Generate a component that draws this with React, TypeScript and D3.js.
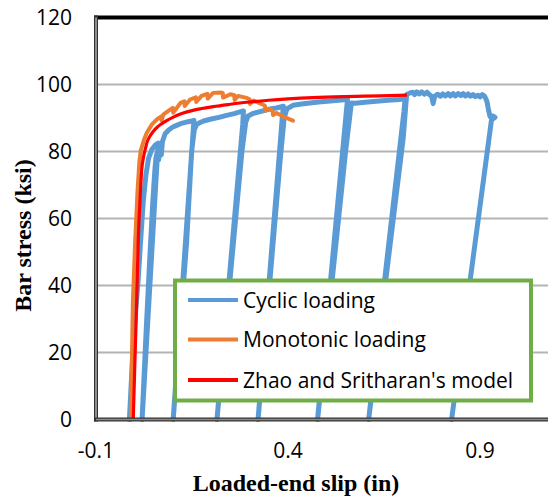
import React from "react";
import * as d3 from "d3";

const W = 548;
const H = 500;

const yTicks = [0, 20, 40, 60, 80, 100, 120];
const xTicks = [-0.1, 0.4, 0.9];

const legendLabels = ["Cyclic loading", "Monotonic loading", "Zhao and Sritharan's model"];
const seriesColors = ["#5B9BD5", "#ED7D31", "#FF0000"];

// Cyclic loading (slip in, stress ksi)
const cyclicSlip = [
  -0.013, -0.005, 0.003, 0.01, 0.016, 0.023, 0.03, 0.037, 0.045, 0.055, 0.062,
  0.06, 0.02,
  0.03, 0.04, 0.048, 0.053, 0.056, 0.06, 0.063, 0.066, 0.07, 0.073, 0.08, 0.09, 0.1, 0.11, 0.12, 0.13, 0.14, 0.15, 0.155,
  0.153, 0.101,
  0.136, 0.149, 0.156, 0.162, 0.17, 0.18, 0.2, 0.22, 0.24, 0.26, 0.275, 0.284,
  0.282, 0.215,
  0.28, 0.29, 0.296, 0.31, 0.33, 0.35, 0.37, 0.388,
  0.385, 0.322,
  0.38, 0.39, 0.397, 0.413, 0.435, 0.457, 0.48, 0.51, 0.54, 0.555,
  0.552, 0.477,
  0.55, 0.565, 0.575, 0.6, 0.63, 0.66, 0.69, 0.705,
  0.702, 0.61,
  0.7, 0.709, 0.718, 0.725, 0.73, 0.735, 0.742, 0.748, 0.755, 0.762, 0.768, 0.774, 0.778, 0.782, 0.79, 0.797,
  0.803, 0.81, 0.817, 0.823, 0.83, 0.836, 0.843, 0.85, 0.856, 0.862, 0.869, 0.875, 0.882, 0.888, 0.895, 0.9,
  0.906, 0.912, 0.918, 0.922, 0.926, 0.934, 0.939, 0.93, 0.826,
];
const cyclicStress = [
  0, 18, 32, 42, 53, 65, 73, 78, 80.5, 82, 82.5,
  79, 0,
  25, 48, 65, 74, 78, 80, 77.5, 80.5, 79, 83, 85.3, 86.5, 87.3, 87.8, 88.3, 88.6, 88.9, 89.1, 89.3,
  86, 0,
  53, 80, 86.5, 88, 88.6, 89.1, 89.7, 90.2, 90.8, 91.3, 91.8, 92.1,
  88, 0,
  80, 88.8, 90.6, 91.4, 92, 92.6, 93, 93.5,
  90, 0,
  78, 90, 92.7, 93.8, 94.2, 94.5, 94.8, 95.1, 95.4, 95.6,
  92, 0,
  80, 94.5, 94.4, 94.7, 95, 95.3, 95.5, 95.8,
  92, 0,
  84, 97, 97.5, 97.7, 97.0, 97.8, 97.2, 97.8, 97.1, 97.7, 97.0, 96.5, 94.3, 96.5, 97.1, 96.5,
  97.2, 96.6, 97.3, 96.6, 97.3, 96.6, 97.3, 96.7, 97.3, 96.6, 97.2, 96.5, 97.0, 96.4, 96.8, 96.3,
  97.0, 96.5, 95, 92.5, 90.5, 90.6, 90.2, 89.5, 0,
];

// Monotonic loading
const monoSlip = [
  -0.009, -0.004, 0.002, 0.008, 0.013, 0.017, 0.025, 0.032, 0.045, 0.058,
  0.07, 0.071, 0.075, 0.093, 0.1, 0.101, 0.12, 0.13, 0.131, 0.145, 0.16, 0.161,
  0.175, 0.19, 0.191, 0.205, 0.225, 0.23, 0.231, 0.25, 0.26, 0.261, 0.27, 0.292,
  0.3, 0.301, 0.31, 0.335, 0.34, 0.341, 0.35, 0.36, 0.361, 0.37, 0.39, 0.413,
];
const monoStress = [
  0, 35, 53, 68, 77, 80.5, 83.5, 85.5, 88, 89.5,
  90.5, 89.2, 91, 92.5, 93, 91.6, 94.5, 95, 93.6, 95.5, 96.2, 94.8,
  96.6, 97.2, 95.8, 97.5, 97.6, 97.5, 96.1, 97.1, 96.8, 95.4, 96.6, 96,
  95.6, 94.2, 95.2, 94, 93.6, 92.2, 92.7, 92.2, 90.9, 91.5, 90.3, 89.2,
];

// Zhao and Sritharan's model
const modelSlip = [
  -0.003, 0.002, 0.006, 0.01, 0.0146, 0.019, 0.024, 0.029, 0.033, 0.04, 0.049, 0.06, 0.07,
  0.085, 0.1, 0.12, 0.16, 0.205, 0.25, 0.293, 0.35, 0.4, 0.466, 0.55, 0.64, 0.71,
];
const modelStress = [
  0, 20, 35.5, 53.4, 65.4, 74.5, 78.5, 81, 82.8, 84.5, 86, 87.3, 88.2,
  89.3, 90.2, 91.2, 92.5, 93.4, 94.1, 94.7, 95.3, 95.7, 96.1, 96.4, 96.6, 96.8,
];

const x = d3.scaleLinear().domain([-0.1, 1.1]).range([96, 556.8]);
const y = d3.scaleLinear().domain([0, 120]).range([419.5, 17.5]);

const zip = (a: number[], b: number[]) => a.map((v, i) => [v, b[i]] as [number, number]);

const lineLinear = d3
  .line<[number, number]>()
  .x((d) => x(d[0]))
  .y((d) => y(d[1]));

const lineSmooth = d3
  .line<[number, number]>()
  .x((d) => x(d[0]))
  .y((d) => y(d[1]))
  .curve(d3.curveMonotoneX);

const FONT = "'Open Sans', 'Noto Sans', sans-serif";
const SERIF = "'Liberation Serif', 'DejaVu Serif', serif";

export default function App() {
  const cyc = zip(cyclicSlip, cyclicStress);
  const mono = zip(monoSlip, monoStress);
  const model = zip(modelSlip, modelStress);
  const plotLeft = x(-0.1);
  const plotTop = y(120);
  const plotBottom = y(0);

  const legX = 175;
  const legY = 280.5;
  const legRows = [300, 339.5, 380];

  return (
    <svg
      width={W}
      height={H}
      style={{ position: "absolute", left: 0, top: 0, background: "#fff" }}
    >
      <rect x={0} y={0} width={W} height={H} fill="#fff" />
      {/* gridlines */}
      {yTicks
        .filter((t) => t > 0 && t < 120)
        .map((t) => (
          <line key={t} x1={plotLeft} x2={W} y1={y(t)} y2={y(t)} stroke="#b4b4b4" strokeWidth={2} />
        ))}
      {/* top border */}
      <line x1={plotLeft - 2} x2={W} y1={plotTop} y2={plotTop} stroke="#000" strokeWidth={4} />
      {/* series */}
      <path d={lineLinear(cyc) || ""} fill="none" stroke={seriesColors[0]} strokeWidth={5} strokeLinejoin="round" strokeLinecap="round" />
      <path d={lineLinear(mono) || ""} fill="none" stroke={seriesColors[1]} strokeWidth={4} strokeLinejoin="round" strokeLinecap="round" />
      <path d={lineSmooth(model) || ""} fill="none" stroke={seriesColors[2]} strokeWidth={3.2} strokeLinejoin="round" />
      {/* axes */}
      <line x1={plotLeft} x2={plotLeft} y1={plotTop - 2} y2={plotBottom + 2} stroke="#333" strokeWidth={4} />
      <line x1={plotLeft} x2={plotLeft} y1={plotTop} y2={plotBottom} stroke="#8c8c8c" strokeWidth={2} />
      <line x1={plotLeft - 2} x2={W} y1={plotBottom} y2={plotBottom} stroke="#333" strokeWidth={4} />
      <line x1={plotLeft} x2={W} y1={plotBottom} y2={plotBottom} stroke="#8c8c8c" strokeWidth={1.5} />
      {/* y tick labels */}
      {yTicks.map((t) => (
        <text key={t} x={72} y={y(t)} dy="0.36em" textAnchor="end" fontFamily={FONT} fontSize={21} fill="#000">
          {t}
        </text>
      ))}
      {/* x tick labels */}
      {xTicks.map((t) => (
        <text key={t} x={x(t)} y={458} textAnchor="middle" fontFamily={FONT} fontSize={21} fill="#000">
          {d3.format(".1f")(t).replace("−", "-")}
        </text>
      ))}
      {/* axis titles */}
      <text x={296} y={491} textAnchor="middle" fontFamily={SERIF} fontWeight="bold" fontSize={24} fill="#000">
        Loaded-end slip (in)
      </text>
      <text
        transform={`translate(31,235.5) rotate(-90)`}
        textAnchor="middle"
        fontFamily={SERIF}
        fontWeight="bold"
        fontSize={24}
        fill="#000"
      >
        Bar stress (ksi)
      </text>
      {/* legend */}
      <rect x={legX} y={legY} width={356} height={120} fill="#fff" stroke="#70AD47" strokeWidth={4} />
      {legendLabels.map((lab, i) => (
        <g key={lab}>
          <line x1={188} x2={238} y1={legRows[i]} y2={legRows[i]} stroke={seriesColors[i]} strokeWidth={4} />
          <text x={243} y={legRows[i]} dy="0.36em" fontFamily={FONT} fontSize={21} fill="#000">
            {lab}
          </text>
        </g>
      ))}
    </svg>
  );
}
